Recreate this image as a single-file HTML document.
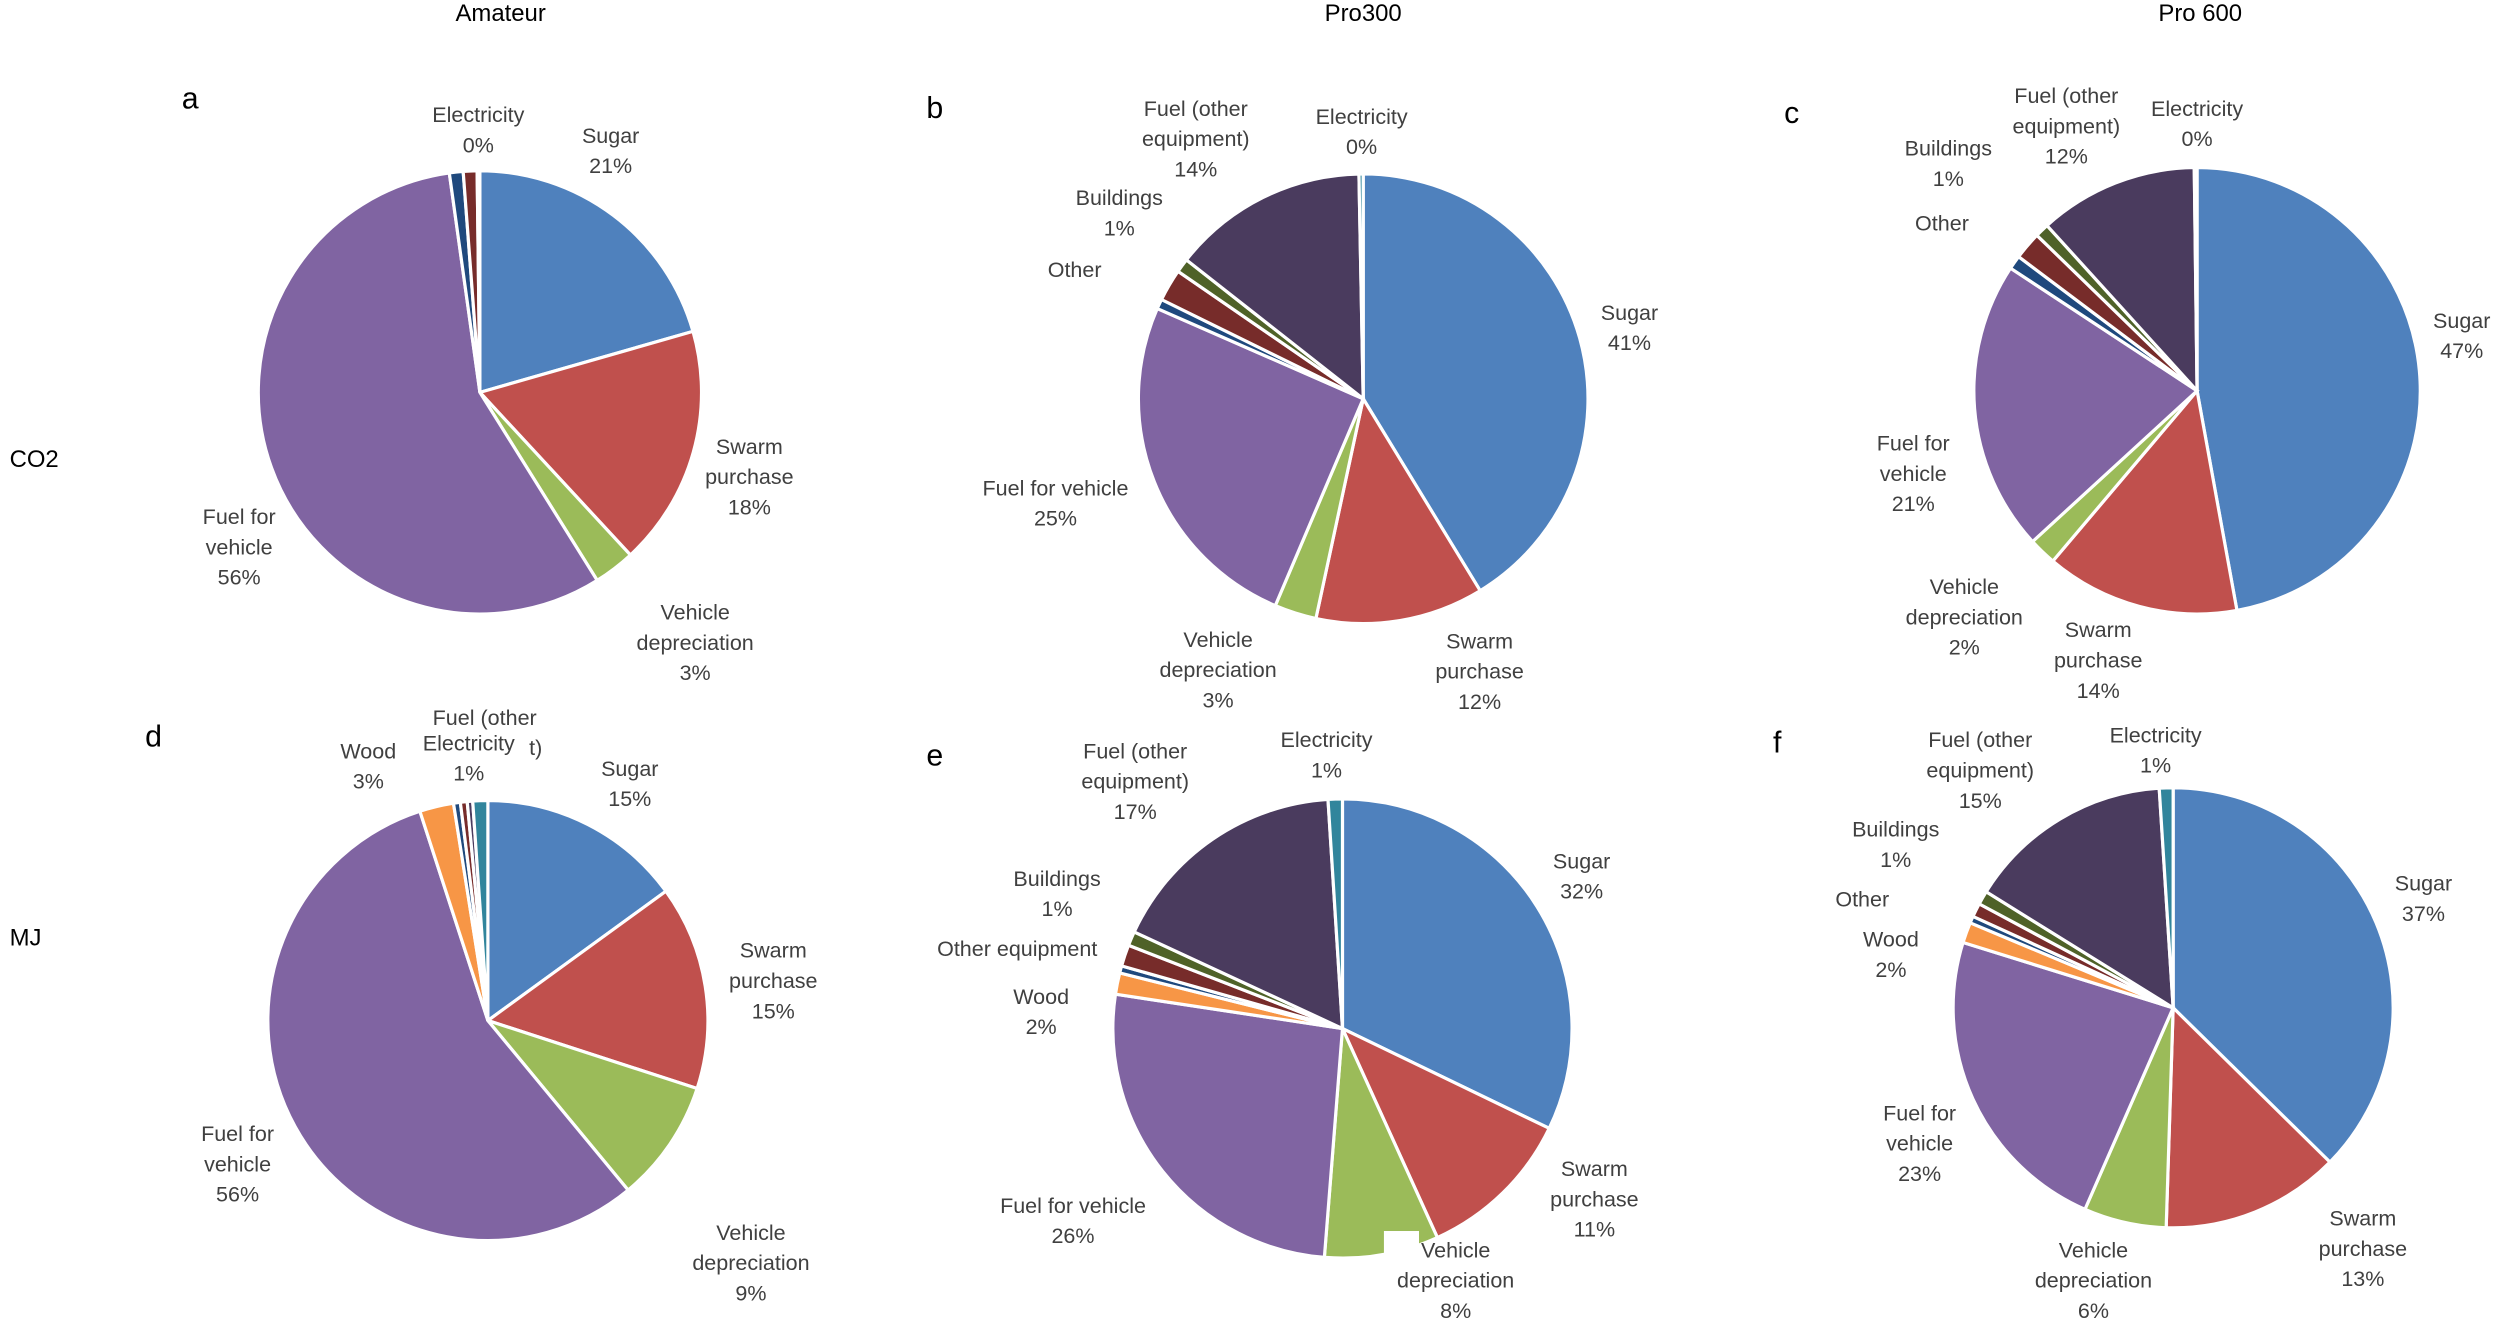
<!DOCTYPE html>
<html><head><meta charset="utf-8"><style>
html,body{margin:0;padding:0;background:#fff;}
svg{display:block;font-family:"Liberation Sans",sans-serif;}
text{font-size:13.5px;fill:#404040;dominant-baseline:middle;text-anchor:middle;}
.t{font-size:15px;fill:#000;}
.l{font-size:19px;fill:#000;text-anchor:start;}
</style></head><body>
<svg id="chart" width="2500" height="1330" viewBox="0 0 1568 834" xmlns="http://www.w3.org/2000/svg">
<g id="slices"></g>
<g transform="translate(0,-3)">
<text class="t" x="314" y="12">Amateur</text>
<text class="t" x="855" y="12">Pro300</text>
<text class="t" x="1380" y="12">Pro 600</text>
<text class="t" x="6" y="292" style="text-anchor:start">CO2</text>
<text class="t" x="6" y="592" style="text-anchor:start">MJ</text>
<text class="l" x="114" y="66">a</text><text class="l" x="581" y="72">b</text><text class="l" x="1119" y="75">c</text>
<text class="l" x="91" y="466">d</text><text class="l" x="581" y="478">e</text><text class="l" x="1112" y="470">f</text>
</g>
<g id="labels" transform="translate(0,-3)"></g>
<rect x="868" y="772" width="22" height="16" fill="#fff"/>
</svg>
<script>
const categories = ["Sugar","Swarm purchase","Vehicle depreciation","Fuel for vehicle","Wood","Other","Other equipment","Buildings","Fuel (other equipment)","Electricity"];
const colors = ["#4F81BD","#C0504D","#9BBB59","#8064A2","#F79646","#1F497D","#772C2A","#4F6228","#4A3B5E","#31859C"];
const valuesA = [20.5,17.5,3,56.5,0,1,1,0,0,0.2];
const valuesB = [41,12,3,25,0,0.7,2.3,1,14,0.3];
const valuesC = [47,14,2,21,0,1,2,1,11.5,0.2];
const valuesD = [15,15,9,56,2.5,0.5,0.5,0,0.4,1.1];
const valuesE = [32,11,8,26,1.5,0.5,1.5,1,17,1];
const valuesF = [37,13,6,23,1.5,0.5,1,1,15,1];
const pies = [
 {name:"a",cx:301,cy:246,r:139,v:valuesA},
 {name:"b",cx:855,cy:250,r:141,v:valuesB},
 {name:"c",cx:1378,cy:245,r:140,v:valuesC},
 {name:"d",cx:306,cy:640,r:138,v:valuesD},
 {name:"e",cx:842,cy:645,r:144,v:valuesE},
 {name:"f",cx:1363,cy:632,r:138,v:valuesF}
];
const NS="http://www.w3.org/2000/svg";
const sg=document.getElementById("slices");
function pt(p,a){return [p.cx+p.r*Math.sin(a),p.cy-p.r*Math.cos(a)];}
pies.forEach(p=>{
 const tot=p.v.reduce((s,x)=>s+x,0);
 let a=0;
 p.v.forEach((val,i)=>{
  if(val<=0)return;
  const a2=a+val/tot*2*Math.PI;
  const s=pt(p,a),e=pt(p,a2);
  const large=(a2-a)>Math.PI?1:0;
  const path=document.createElementNS(NS,"path");
  path.setAttribute("d",`M${p.cx},${p.cy}L${s[0]},${s[1]}A${p.r},${p.r} 0 ${large} 1 ${e[0]},${e[1]}Z`);
  path.setAttribute("fill",colors[i]);
  path.setAttribute("stroke","#fff");
  path.setAttribute("stroke-width","2");
  
  
  sg.appendChild(path);
  a=a2;
 });
});
const labels=[
 [300,[76,95],["Electricity","0%"]],[383,[89,108],["Sugar","21%"]],[470,[284,303,322],["Swarm","purchase","18%"]],
 [436,[388,407,426],["Vehicle","depreciation","3%"]],[150,[328,347,366],["Fuel for","vehicle","56%"]],
 [750,[72,91,110],["Fuel (other","equipment)","14%"]],[854,[77,96],["Electricity","0%"]],[702,[128,147],["Buildings","1%"]],
 [674,[173],["Other"]],[1022,[200,219],["Sugar","41%"]],[662,[310,329],["Fuel for vehicle","25%"]],
 [764,[405,424,443],["Vehicle","depreciation","3%"]],[928,[406,425,444],["Swarm","purchase","12%"]],
 [1296,[64,83,102],["Fuel (other","equipment)","12%"]],[1378,[72,91],["Electricity","0%"]],[1222,[97,116],["Buildings","1%"]],
 [1218,[144],["Other"]],[1544,[205,224],["Sugar","47%"]],[1200,[282,301,320],["Fuel for","vehicle","21%"]],
 [1232,[372,391,410],["Vehicle","depreciation","2%"]],[1316,[399,418,437],["Swarm","purchase","14%"]],
 [231,[475,494],["Wood","3%"]],[304,[454],["Fuel (other"]],[294,[470,489],["Electricity","1%"]],[336,[473],["t)"]],
 [395,[486,505],["Sugar","15%"]],[485,[600,619,638],["Swarm","purchase","15%"]],[471,[777,796,815],["Vehicle","depreciation","9%"]],
 [149,[715,734,753],["Fuel for","vehicle","56%"]],
 [712,[475,494,513],["Fuel (other","equipment)","17%"]],[832,[468,487],["Electricity","1%"]],[663,[555,574],["Buildings","1%"]],
 [638,[599],["Other equipment"]],[653,[629,648],["Wood","2%"]],[992,[544,563],["Sugar","32%"]],[673,[760,779],["Fuel for vehicle","26%"]],
 [1000,[737,756,775],["Swarm","purchase","11%"]],[913,[788,807,826],["Vehicle","depreciation","8%"]],
 [1242,[468,487,506],["Fuel (other","equipment)","15%"]],[1352,[465,484],["Electricity","1%"]],[1189,[524,543],["Buildings","1%"]],
 [1168,[568],["Other"]],[1186,[593,612],["Wood","2%"]],[1520,[558,577],["Sugar","37%"]],[1204,[702,721,740],["Fuel for","vehicle","23%"]],
 [1313,[788,807,826],["Vehicle","depreciation","6%"]],[1482,[768,787,806],["Swarm","purchase","13%"]]
];
const lg=document.getElementById("labels");
labels.forEach(l=>{
 l[2].forEach((s,j)=>{
  const t=document.createElementNS(NS,"text");
  t.setAttribute("x",l[0]);t.setAttribute("y",l[1][j]);
  t.textContent=s;
  
  
  lg.appendChild(t);
 });
});
</script>
</body></html>
